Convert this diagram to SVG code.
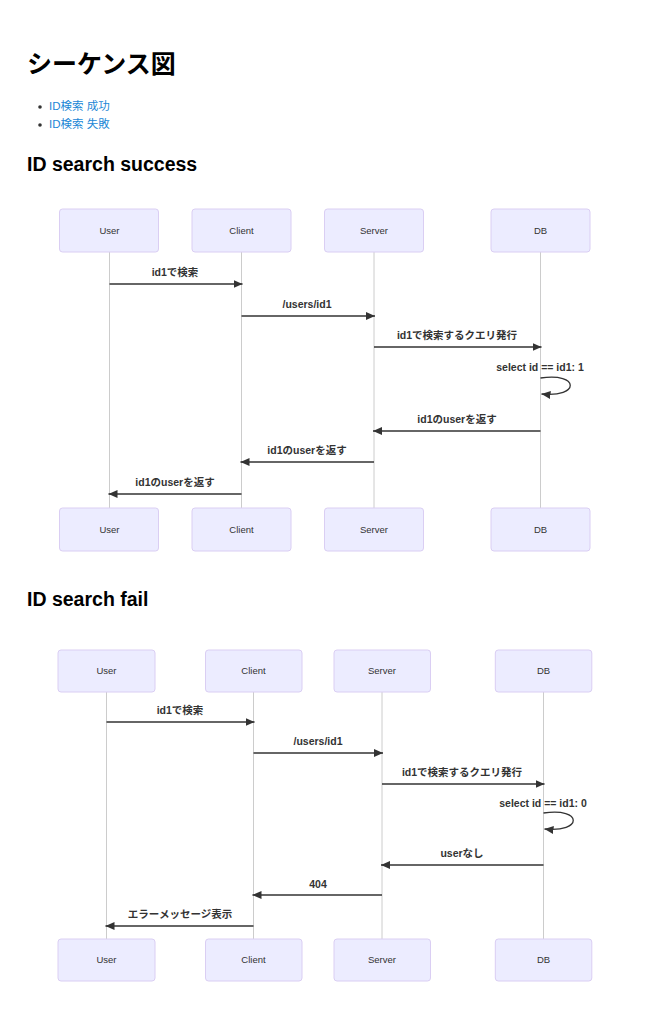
<svg xmlns="http://www.w3.org/2000/svg" width="650" height="1023" viewBox="0 0 650 1023">
<style>
.h1{font-family:"Liberation Sans","Noto Sans CJK JP",sans-serif;font-size:25px;font-weight:bold;fill:#000}
.h2{font-family:"Liberation Sans","Noto Sans CJK JP",sans-serif;font-size:19.5px;font-weight:bold;fill:#000}
.li{font-family:"Liberation Sans","Noto Sans CJK JP",sans-serif;font-size:11.5px;fill:#1a87d6}
.actor rect{fill:#ECECFF;stroke:#dacef3;stroke-width:1}
.actor text{font-family:"Liberation Sans","Noto Sans CJK JP",sans-serif;font-size:9.5px;fill:#333;text-anchor:middle}
.life{stroke:#cccccc;stroke-width:1}
.msg{stroke:#333;stroke-width:1.3;fill:none;marker-end:url(#arr)}
.mt{font-family:"Liberation Sans","Noto Sans CJK JP",sans-serif;font-size:10.5px;font-weight:bold;fill:#333;text-anchor:middle}
</style>
<defs>
<marker id="arr" markerUnits="userSpaceOnUse" markerWidth="10" markerHeight="8" refX="9" refY="4" orient="auto">
<path d="M0,0 L9,4 L0,8 z" fill="#333"/>
</marker>
</defs>
<rect width="650" height="1023" fill="#fff"/>
<text class="h1" x="27" y="72.5">シーケンス図</text>
<circle cx="40" cy="107" r="1.8" fill="#333"/>
<circle cx="40" cy="125" r="1.8" fill="#333"/>
<text class="li" x="49" y="110">ID検索 成功</text>
<text class="li" x="49" y="128">ID検索 失敗</text>
<text class="h2" x="27" y="170.5">ID search success</text>
<text class="h2" x="27" y="605.5">ID search fail</text>

<g id="seq1">
<g id="lifelines1">
<line class="life" x1="109.5" y1="252" x2="109.5" y2="508"/>
<line class="life" x1="241.5" y1="252" x2="241.5" y2="508"/>
<line class="life" x1="374" y1="252" x2="374" y2="508"/>
<line class="life" x1="540.5" y1="252" x2="540.5" y2="508"/>
</g>
<g id="s1-user-top" class="actor"><rect x="59.5" y="209" width="99" height="43" rx="3"/><text x="109.5" y="234">User</text></g>
<g id="s1-client-top" class="actor"><rect x="192" y="209" width="99" height="43" rx="3"/><text x="241.5" y="234">Client</text></g>
<g id="s1-server-top" class="actor"><rect x="324.5" y="209" width="99" height="43" rx="3"/><text x="374" y="234">Server</text></g>
<g id="s1-db-top" class="actor"><rect x="491" y="209" width="99" height="43" rx="3"/><text x="540.5" y="234">DB</text></g>
<g id="s1-user-bottom" class="actor"><rect x="59.5" y="508" width="99" height="43" rx="3"/><text x="109.5" y="533">User</text></g>
<g id="s1-client-bottom" class="actor"><rect x="192" y="508" width="99" height="43" rx="3"/><text x="241.5" y="533">Client</text></g>
<g id="s1-server-bottom" class="actor"><rect x="324.5" y="508" width="99" height="43" rx="3"/><text x="374" y="533">Server</text></g>
<g id="s1-db-bottom" class="actor"><rect x="491" y="508" width="99" height="43" rx="3"/><text x="540.5" y="533">DB</text></g>
<g id="s1-messages">
<line class="msg" x1="109.5" y1="284" x2="242.5" y2="284"/>
<text class="mt" x="175" y="276">id1で検索</text>
<line class="msg" x1="241.5" y1="316" x2="375" y2="316"/>
<text class="mt" x="307" y="308">/users/id1</text>
<line class="msg" x1="374" y1="347" x2="541.5" y2="347"/>
<text class="mt" x="457" y="339">id1で検索するクエリ発行</text>
<path class="msg" d="M540.5,378 C580,372 580,398 541.5,394"/>
<text class="mt" x="540" y="371">select id == id1: 1</text>
<line class="msg" x1="540.5" y1="431" x2="373" y2="431"/>
<text class="mt" x="457" y="423">id1のuserを返す</text>
<line class="msg" x1="374" y1="462" x2="240.5" y2="462"/>
<text class="mt" x="307" y="454">id1のuserを返す</text>
<line class="msg" x1="241.5" y1="494" x2="108.5" y2="494"/>
<text class="mt" x="175" y="486">id1のuserを返す</text>
</g>
</g>

<g id="seq2">
<g id="lifelines2">
<line class="life" x1="106.5" y1="692" x2="106.5" y2="939"/>
<line class="life" x1="253.5" y1="692" x2="253.5" y2="939"/>
<line class="life" x1="382" y1="692" x2="382" y2="939"/>
<line class="life" x1="543.5" y1="692" x2="543.5" y2="939"/>
</g>
<g id="s2-user-top" class="actor"><rect x="58" y="650" width="97" height="42" rx="3"/><text x="106.5" y="674">User</text></g>
<g id="s2-client-top" class="actor"><rect x="205.5" y="650" width="96.5" height="42" rx="3"/><text x="253.5" y="674">Client</text></g>
<g id="s2-server-top" class="actor"><rect x="334" y="650" width="96.5" height="42" rx="3"/><text x="382" y="674">Server</text></g>
<g id="s2-db-top" class="actor"><rect x="495.3" y="650" width="96.5" height="42" rx="3"/><text x="543.5" y="674">DB</text></g>
<g id="s2-user-bottom" class="actor"><rect x="58" y="939" width="97" height="42" rx="3"/><text x="106.5" y="963">User</text></g>
<g id="s2-client-bottom" class="actor"><rect x="205.5" y="939" width="96.5" height="42" rx="3"/><text x="253.5" y="963">Client</text></g>
<g id="s2-server-bottom" class="actor"><rect x="334" y="939" width="96.5" height="42" rx="3"/><text x="382" y="963">Server</text></g>
<g id="s2-db-bottom" class="actor"><rect x="495.3" y="939" width="96.5" height="42" rx="3"/><text x="543.5" y="963">DB</text></g>
<g id="s2-messages">
<line class="msg" x1="106.5" y1="722" x2="254.5" y2="722"/>
<text class="mt" x="180" y="714">id1で検索</text>
<line class="msg" x1="253.5" y1="753" x2="383" y2="753"/>
<text class="mt" x="318" y="745">/users/id1</text>
<line class="msg" x1="382" y1="784" x2="544.5" y2="784"/>
<text class="mt" x="462" y="776">id1で検索するクエリ発行</text>
<path class="msg" d="M543.5,813 C583,807 583,833 544.5,829"/>
<text class="mt" x="543" y="807">select id == id1: 0</text>
<line class="msg" x1="543.5" y1="865" x2="381" y2="865"/>
<text class="mt" x="462" y="857">userなし</text>
<line class="msg" x1="382" y1="895" x2="252.5" y2="895"/>
<text class="mt" x="318" y="888">404</text>
<line class="msg" x1="253.5" y1="926" x2="105.5" y2="926"/>
<text class="mt" x="180" y="918">エラーメッセージ表示</text>
</g>
</g>
</svg>
